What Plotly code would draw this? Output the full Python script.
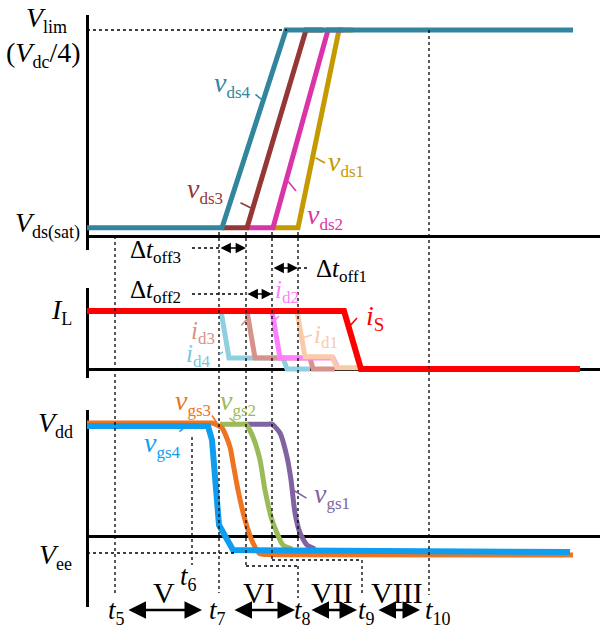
import plotly.graph_objects as go

W, H = 613, 631
FONT = "Liberation Serif, Times New Roman, Times, DejaVu Serif, serif"

# ---------------- data (time axis in arbitrary units, values normalised) ----------------
T_END = 513
t5, t6, t7, ta, tb, t8, t9, t10 = 28, 105, 132, 159, 185, 211, 275, 342

# top panel: drain-source voltages (1 = V_lim, V_SAT = V_ds(sat))
V_SAT = 0.04
vds4_t = [0, 135, 199, 486]
vds4_v = [V_SAT, V_SAT, 1, 1]
vds3_t = [135, 160, 219, 236]
vds3_v = [V_SAT, V_SAT, 1, 1]
vds2_t = [160, 186, 241, 256]
vds2_v = [V_SAT, V_SAT, 1, 1]
vds1_t = [186, 211, 252, 266]
vds1_v = [V_SAT, V_SAT, 1, 1]

# middle panel: currents (1 = I_L)
iS_t = [0, 257, 274, 493]
iS_v = [1, 1, 0, 0]
id4_t = [110, 134, 142, 196, 200, 223]
id4_v = [1, 1, 0.19, 0.19, 0, 0]
id3_t = [140, 160, 168, 223, 226, 248]
id3_v = [1, 1, 0.19, 0.19, 0, 0]
id2_t = [165, 185, 193, 246, 250]
id2_v = [1, 1, 0.19, 0.19, 0.05]
id1_t = [190, 210, 218, 245, 250, 271]
id1_v = [1, 1, 0.21, 0.21, 0.02, 0.02]

# bottom panel: gate-source voltages (1 = V_dd)
vgs4_t = [0, 121, 125, 132, 146, 483]
vgs4_v = [0.973, 0.973, 0.85, 0.097, -0.124, -0.142]
vgs3_t = [0, 100, 119, 125, 135, 143, 146, 151, 158, 166, 173, 180, 200, 486]
vgs3_v = [1.0, 1.0, 1.0, 1.0, 0.956, 0.788, 0.646, 0.407, 0.142, -0.062, -0.159,
          -0.163, -0.165, -0.168]
vgs2_t = [133, 150, 156, 159, 166, 173, 178, 185, 196, 205]
vgs2_v = [0.99, 0.99, 0.99, 0.99, 0.876, 0.673, 0.407, 0.142, -0.08, -0.115]
vgs1_t = [160, 175, 182, 185, 193, 200, 204, 208, 213, 220, 228]
vgs1_v = [0.99, 0.99, 0.99, 0.99, 0.912, 0.699, 0.496, 0.204, 0.027, -0.08, -0.115]

# ---------------- geometry helpers ----------------
X0_PX, X1_PX = 87, 600          # left edge (t=0) and right end of the time axis


def px(xp):
    return xp / W


def py(yp):
    return 1 - yp / H


# panels: (zero line px, unit px, top px, bottom px)
panels = {
    "y": (236, 206, 15, 250),
    "y2": (369, 58, 288, 378),
    "y3": (536, 113, 410, 607),
}

C = dict(vds4="#31859C", vds3="#953735", vds2="#D934A8", vds1="#C49A00",
         iS="#FF0000", id4="#8ECFE0", id3="#D7928A", id2="#FF80FF", id1="#F9CBA8",
         vgs4="#0F9DF0", vgs3="#EE7420", vgs2="#9BBB59", vgs1="#8064A2")

fig = go.Figure()


def line(t, v, color, yaxis, xaxis, width=5, shape="linear"):
    fig.add_trace(go.Scatter(x=t, y=v, mode="lines", xaxis=xaxis, yaxis=yaxis,
                             line=dict(color=color, width=width, shape=shape,
                                       smoothing=0.6 if shape == "spline" else None),
                             hoverinfo="skip", showlegend=False))


# top
line(vds1_t, vds1_v, C["vds1"], "y", "x")
line(vds2_t, vds2_v, C["vds2"], "y", "x")
line(vds3_t, vds3_v, C["vds3"], "y", "x")
line(vds4_t, vds4_v, C["vds4"], "y", "x")
# middle
line(id4_t, id4_v, C["id4"], "y2", "x2")
line(id3_t, id3_v, C["id3"], "y2", "x2")
line(id2_t, id2_v, C["id2"], "y2", "x2")
line(id1_t, id1_v, C["id1"], "y2", "x2")
line(iS_t, iS_v, C["iS"], "y2", "x2", width=6)
# bottom
line(vgs1_t, vgs1_v, C["vgs1"], "y3", "x3", shape="spline")
line(vgs2_t, vgs2_v, C["vgs2"], "y3", "x3", shape="spline")
line(vgs3_t, vgs3_v, C["vgs3"], "y3", "x3", shape="spline")
line(vgs4_t, vgs4_v, C["vgs4"], "y3", "x3", width=6)

# axis arrowheads
for (ya, xa) in (("y", "x"), ("y2", "x2"), ("y3", "x3")):
    z, u, top, bot = panels[ya]
    tip_up = (z - (top - 4)) / u
    fig.add_trace(go.Scatter(x=[0], y=[tip_up], mode="markers", xaxis=xa, yaxis=ya,
                             marker=dict(symbol="triangle-up", size=18, color="black"),
                             cliponaxis=False, hoverinfo="skip", showlegend=False))
    fig.add_trace(go.Scatter(x=[T_END + 4.5], y=[0], mode="markers", xaxis=xa, yaxis=ya,
                             marker=dict(symbol="triangle-right", size=15, color="black"),
                             cliponaxis=False, hoverinfo="skip", showlegend=False))

layout = dict(width=W, height=H, margin=dict(l=0, r=0, t=0, b=0),
              paper_bgcolor="white", plot_bgcolor="white", showlegend=False)
xd = [(X0_PX - 1) / W, X1_PX / W]
for i, (ya, (z, u, top, bot)) in enumerate(panels.items()):
    xa = "xaxis" if i == 0 else f"xaxis{i+1}"
    yk = "yaxis" if i == 0 else f"yaxis{i+1}"
    layout[xa] = dict(domain=xd, range=[-1, T_END], anchor=ya, showgrid=False,
                      showticklabels=False, ticks="", zeroline=True,
                      zerolinecolor="black", zerolinewidth=2.6, showline=False)
    if i > 0:
        layout[xa]["matches"] = "x"
    layout[yk] = dict(domain=[py(bot), py(top)], range=[(z - bot) / u, (z - top) / u],
                      anchor="x" if i == 0 else f"x{i+1}", showgrid=False,
                      showticklabels=False, ticks="", zeroline=True,
                      zerolinecolor="black", zerolinewidth=2.6, showline=False)
fig.update_layout(**layout)

# ---------------- dotted guide lines ----------------
DOT = dict(color="black", width=1.3, dash="dot")


def vdot(t, y0p, y1p):
    fig.add_shape(type="line", xref="x", yref="paper", x0=t, x1=t, y0=py(y0p), y1=py(y1p),
                  line=DOT)


def hdot(ta_, tb_, yp):
    fig.add_shape(type="line", xref="x", yref="paper", x0=ta_, x1=tb_, y0=py(yp), y1=py(yp),
                  line=DOT)


vdot(t5, 236, 593)
vdot(t6, 437, 565)
vdot(t7, 232, 593)
vdot(ta, 232, 566); hdot(ta, t8, 566); vdot(t8, 566, 598)
vdot(tb, 232, 560); hdot(tb, t9, 560); vdot(t9, 560, 596)
vdot(t8, 232, 548)
vdot(t10, 30, 595)
hdot(0, 200, 30)
hdot(0, 150, 553)
# delta-t leaders
hdot(t6, t7, 248)
hdot(t6, ta, 294)
hdot(t8, 223, 268)

# ---------------- text ----------------
SUBFONT = "Liberation Serif"


def sub(main, s, size):
    return (f"{main}<sub><span style='font-size:{size}px;font-family:{SUBFONT}'>"
            f"{s}</span></sub>")


def label(text, xc, yc, size=28, color="black"):
    fig.add_annotation(text=text, x=px(xc), y=py(yc), xref="paper", yref="paper",
                       showarrow=False, xanchor="center", yanchor="middle",
                       font=dict(family=FONT, size=size, color=color))


label(sub("<i>V</i>", "lim", 18), 46, 20)
label("(" + sub("<i>V</i>", "dc", 18) + "/4)", 44, 54)
label(sub("<i>V</i>", "ds(sat)", 18), 47, 225)
label(sub("<i>I</i>", "L", 18), 61, 312)
label(sub("<i>V</i>", "dd", 18), 55, 425)
label(sub("<i>V</i>", "ee", 18), 55, 556)

label(sub("<i>v</i>", "ds4", 17), 232, 85, color=C["vds4"])
label(sub("<i>v</i>", "ds3", 17), 205, 190, color=C["vds3"])
label(sub("<i>v</i>", "ds1", 17), 346, 163, color=C["vds1"])
label(sub("<i>v</i>", "ds2", 17), 325, 216, color=C["vds2"])

label(sub("Δ<i>t</i>", "off3", 17), 155, 252, size=25)
label(sub("Δ<i>t</i>", "off2", 17), 155, 291, size=25)
label(sub("Δ<i>t</i>", "off1", 17), 341, 270, size=25)

label(sub("<i>i</i>", "d2", 17), 287, 292, size=25, color=C["id2"])
label(sub("<i>i</i>", "d3", 17), 203, 332, size=25, color=C["id3"])
label(sub("<i>i</i>", "d4", 17), 198, 355, size=25, color="#7CC6DD")
label(sub("<i>i</i>", "d1", 17), 326, 336, size=25, color=C["id1"])
label(sub("<i>i</i>", "S", 19), 375, 317, size=28, color=C["iS"])

label(sub("<i>v</i>", "gs3", 17), 193, 403, color=C["vgs3"])
label(sub("<i>v</i>", "gs2", 17), 238, 403, color=C["vgs2"])
label(sub("<i>v</i>", "gs4", 17), 162, 444, color=C["vgs4"])
label(sub("<i>v</i>", "gs1", 17), 332, 495, color=C["vgs1"])

label(sub("<i>t</i>", "5", 18), 116, 612, size=27)
label(sub("<i>t</i>", "6", 18), 188, 578, size=27)
label(sub("<i>t</i>", "7", 18), 217, 612, size=27)
label(sub("<i>t</i>", "8", 18), 302, 612, size=27)
label(sub("<i>t</i>", "9", 18), 366, 612, size=27)
label(sub("<i>t</i>", "10", 18), 438, 612, size=27)
label("V", 164, 592, size=30)
label("VI", 259, 592, size=30)
label("VII", 332, 592, size=30)
label("VIII", 397, 592, size=30)


def leader(x_end, y_end, dx, dy, color):
    fig.add_annotation(text="", x=px(x_end), y=py(y_end), xref="paper", yref="paper",
                       ax=dx, ay=dy, axref="pixel", ayref="pixel", showarrow=True,
                       arrowhead=0, arrowwidth=1.6, arrowcolor=color, standoff=0)


leader(261, 99, -7, -6, C["vds4"])
leader(251, 208, -12, -6, C["vds3"])
leader(296, 191, -9, -11, C["vds2"])
leader(325, 163, -11, -6, C["vds1"])
leader(246, 320, -6, 7, C["id3"])
leader(223, 352, -5, 3, "#7CC6DD")
leader(279, 316, -6, 6, C["id2"])
leader(312, 335, -10, 3, C["id1"])
leader(357, 318, -9, 10, C["iS"])
leader(217, 423, -6, -9, C["vgs3"])
leader(235, 422, -7, -5, C["vgs2"])
leader(185, 427, -7, 6, C["vgs4"])
leader(293, 490, 15, 9, C["vgs1"])


def darrow(x_left, x_right, yp, width, size):
    fig.add_annotation(text="", x=px(x_right), y=py(yp), xref="paper", yref="paper",
                       ax=-(x_right - x_left), ay=0, axref="pixel", ayref="pixel",
                       showarrow=True, arrowside="end+start", arrowhead=2, startarrowhead=2,
                       arrowwidth=width, arrowsize=size, startarrowsize=size,
                       arrowcolor="black", standoff=0, startstandoff=0)


# delta-t arrows (between event lines)
darrow(219, 246, 248, 1.3, 1.6)
darrow(246, 272, 294, 1.3, 1.6)
darrow(272, 298, 268, 1.3, 1.6)
# interval arrows at the bottom
darrow(127, 202, 610, 2.5, 1.4)
darrow(233, 295, 610, 2.5, 1.4)
darrow(310, 357, 610, 2.5, 1.4)
darrow(377, 420, 610, 2.5, 1.4)

fig.write_html("out.html", config={"displayModeBar": False},
               post_script="document.body.style.margin='0px';document.body.style.overflow='hidden';")
